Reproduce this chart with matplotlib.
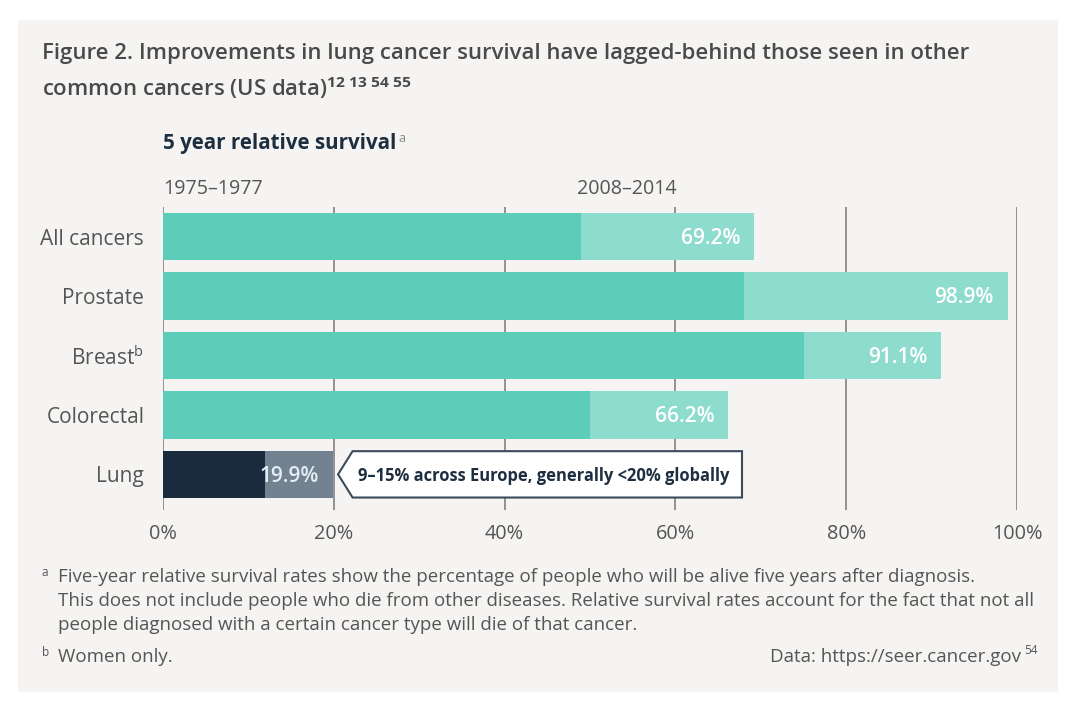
import matplotlib.pyplot as plt
from matplotlib.patches import Rectangle, Polygon

plt.rcParams['font.family'] = ['Open Sans', 'DejaVu Sans']
plt.rcParams['mathtext.fontset'] = 'custom'
plt.rcParams['mathtext.rm'] = 'Open Sans'
plt.rcParams['mathtext.bf'] = 'Open Sans:bold'
plt.rcParams['mathtext.it'] = 'Open Sans:italic'

categories = ['All cancers', 'Prostate', 'Breast$^{\\mathrm{b}}$', 'Colorectal', 'Lung']
survival_1975 = [49, 68, 75, 50, 12]
survival_2008 = [69.2, 98.9, 91.1, 66.2, 19.9]
period_labels = ['1975–1977', '2008–2014']
xticks = [0, 20, 40, 60, 80, 100]

teal_dark = '#5ccdb9'
teal_light = '#8edccd'
lung_dark = '#1a2b3e'
lung_light = '#738290'
grey_text = '#555555'
navy = '#1c2e40'

fig = plt.figure(figsize=(10.8, 7.15), dpi=100, facecolor='white')

# panel de fondo
fig.patches.append(Rectangle((18 / 1080, 1 - 692 / 715), 1040 / 1080, 672 / 715,
                             transform=fig.transFigure, facecolor='#f5f4f2',
                             edgecolor='none', zorder=-10))

ax = fig.add_axes([163 / 1080, 1 - 510 / 715, 854 / 1080, 303 / 715])
ax.set_facecolor('none')

ypos = list(range(len(categories)))
colors_new = [teal_light] * 4 + [lung_light]
colors_old = [teal_dark] * 4 + [lung_dark]
ax.barh(ypos, survival_2008, height=0.8, color=colors_new, zorder=2)
ax.barh(ypos, survival_1975, height=0.8, color=colors_old, zorder=3)

for x in xticks:
    ax.axvline(x, color='#8a8a8a', lw=1.3, zorder=1)

label_colors = ['white'] * 4 + ['#e4eef4']
for y, v, c in zip(ypos, survival_2008, label_colors):
    ax.text(v - 1.6, y + 0.03, f'{v:.1f}%', ha='right', va='center', color=c,
            fontsize=15, fontweight='semibold', zorder=4)

ax.set_xlim(0, 100)
ax.set_ylim(4.6, -0.5)
ax.set_xticks(xticks)
ax.set_xticklabels([f'{x}%' for x in xticks], fontsize=14.3, color=grey_text)
ax.set_yticks(ypos)
ax.set_yticklabels(categories, fontsize=15, color=grey_text)
ax.tick_params(length=0, axis='x', pad=10)
ax.tick_params(length=0, axis='y', pad=13.5)
for s in ax.spines.values():
    s.set_visible(False)

# cuadro de llamada para pulmon
lung = survival_2008[-1]
tip = lung + 0.6
left = lung + 2.3
right = 67.8
y0, h = 4, 0.39
ax.add_patch(Polygon([(tip, y0), (left, y0 - h), (right, y0 - h), (right, y0 + h), (left, y0 + h)],
                     closed=True, facecolor='white', edgecolor='#3b4a5a', lw=1.5, zorder=4))
ax.text(left + 0.6, y0 + 0.03, '9–15% across Europe, generally <20% globally', ha='left', va='center',
        fontsize=11.9, fontweight='bold', color=navy, zorder=5)

# encabezados
ax.text(0, -0.63, period_labels[0], ha='left', va='bottom', fontsize=14.1, color=grey_text)
ax.text(48.5, -0.63, period_labels[1], ha='left', va='bottom', fontsize=14.1, color=grey_text)

fig.text(163 / 1080, 1 - 143 / 715, '5 year relative survival', ha='left', va='center',
         fontsize=14.8, fontweight='bold', color=navy)
fig.text(398 / 1080, 1 - 139 / 715, 'a', ha='left', va='center', fontsize=9, color='#888888')

# titulo
fig.text(42 / 1080, 1 - 54 / 715, 'Figure 2. Improvements in lung cancer survival have lagged-behind those seen in other',
         ha='left', va='center', fontsize=15.9, fontweight='semibold', color='#4a4a4a')
fig.text(42 / 1080, 1 - 88 / 715, 'common cancers (US data)$^{\\mathbf{12\\ 13\\ 54\\ 55}}$',
         ha='left', va='center', fontsize=15.9, fontweight='semibold', color='#4a4a4a')

# notas
notes = ['Five-year relative survival rates show the percentage of people who will be alive five years after diagnosis.',
         'This does not include people who die from other diseases. Relative survival rates account for the fact that not all',
         'people diagnosed with a certain cancer type will die of that cancer.']
for i, line in enumerate(notes):
    fig.text(58 / 1080, 1 - (577 + 24 * i) / 715, line, ha='left', va='center',
             fontsize=13.5, color=grey_text)
fig.text(42 / 1080, 1 - 573 / 715, 'a', ha='left', va='center', fontsize=8.5, color=grey_text)
fig.text(42 / 1080, 1 - 653 / 715, 'b', ha='left', va='center', fontsize=8.5, color=grey_text)
fig.text(58 / 1080, 1 - 657 / 715, 'Women only.', ha='left', va='center', fontsize=13.5, color=grey_text)
fig.text(1021 / 1080, 1 - 657 / 715, 'Data: https://seer.cancer.gov', ha='right', va='center',
         fontsize=13.5, color=grey_text)
fig.text(1024 / 1080, 1 - 651 / 715, '54', ha='left', va='center', fontsize=8.5, color=grey_text)

plt.savefig('out.png', dpi=100, facecolor='white')
plt.close()
